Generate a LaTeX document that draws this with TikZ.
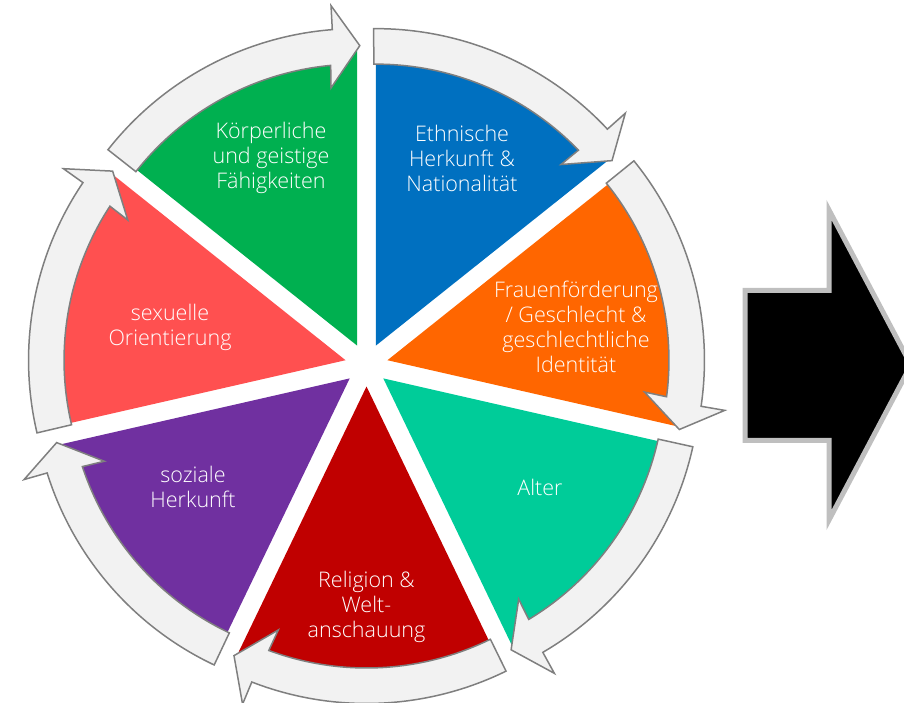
\documentclass[tikz,border=0pt]{standalone}
\usepackage{fontspec}
\usepackage{tikz}
\setmainfont{Open Sans Light}

\definecolor{cGreen}{HTML}{00B050}
\definecolor{cBlue}{HTML}{0070C0}
\definecolor{cOrange}{HTML}{FF6600}
\definecolor{cTeal}{HTML}{00CC99}
\definecolor{cRed}{HTML}{C00000}
\definecolor{cPurple}{HTML}{7030A0}
\definecolor{cCoral}{HTML}{FF5050}
\definecolor{bandfill}{HTML}{F2F2F2}
\definecolor{bandline}{HTML}{7F7F7F}

% one piece of the cycle: #1 = start angle, #2 = colour
\newcommand{\piece}[2]{%
	\pgfmathsetmacro{\angA}{#1}%
	\pgfmathsetmacro{\angM}{#1-25.714}%
	\pgfmathsetmacro{\angB}{#1-51.429}%
	\pgfmathsetmacro{\angS}{#1+0.4}%
	\pgfmathsetmacro{\angIn}{\angB+5.4}%
	\pgfmathsetmacro{\angInW}{\angB+5.8}%
	\pgfmathsetmacro{\angOut}{\angB+4.5}%
	\pgfmathsetmacro{\angOutW}{\angB+4.4}%
	\pgfmathsetmacro{\angTip}{\angB-0.5}%
	\begin{scope}[shift={(366.5,337)}, shift={(\angM:21.5)}]
		\fill[#2] (0,0) -- (\angA:295pt) arc[start angle=\angA, end angle=\angB, radius=295pt] -- cycle;
		\filldraw[fill=bandfill, draw=bandline, line width=1.5pt]
			(\angS:317pt) -- (\angS:281.5pt) arc[start angle=\angS, end angle=\angIn, radius=281.5pt]
			-- (\angInW:259pt) -- (\angTip:300pt) -- (\angOutW:341pt)
			-- (\angOut:317pt) arc[start angle=\angOut, end angle=\angS, radius=317pt] -- cycle;
	\end{scope}}

\begin{document}
\begin{tikzpicture}[x=1pt, y=1pt,
		txt/.style={align=center, text=white, font=\fontsize{21.5}{25}\selectfont}]
					\useasboundingbox (0,0) rectangle (904,702);
					\piece{141.429}{cGreen}
					\piece{90}{cBlue}
					\piece{38.571}{cOrange}
					\piece{-12.857}{cTeal}
					\piece{-64.286}{cRed}
					\piece{-115.714}{cPurple}
					\piece{-167.143}{cCoral}
					\node[txt] (koerper) at (271,544) {Körperliche\\und geistige\\Fähigkeiten};
					\node[txt] (ethnie) at (462,544) {Ethnische\\Herkunft \&\\Nationalität};
					\node[txt] (gender) at (576,375) {Frauenförderung\\/ Geschlecht \&\\geschlechtliche\\Identität};
					\node[txt] (alter) at (540,215) {Alter};
					\node[txt] (religion) at (366.5,95) {Religion \&\\Welt-\\anschauung};
					\node[txt] (sozial) at (193,215) {soziale\\Herkunft};
					\node[txt] (sexuell) at (170,374.5) {sexuelle\\Orientierung};
					\filldraw[fill=black, draw=black!25, line width=5pt] (745.2,411.7) -- (829,411.7) -- (829,492) -- (911,337) -- (829,182) -- (829,261.7) -- (745.2,261.7) -- cycle;
				\end{tikzpicture}
\end{document}
